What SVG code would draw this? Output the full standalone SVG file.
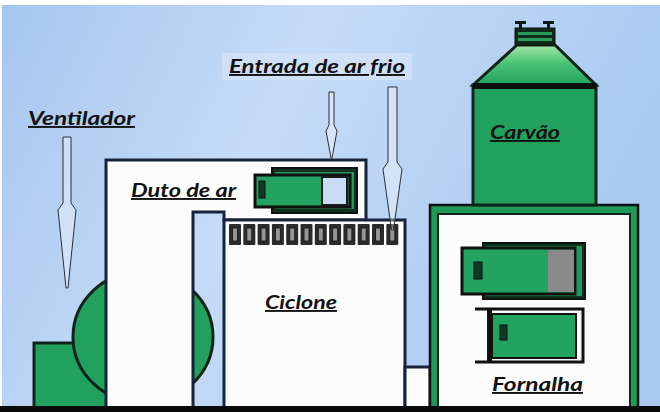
<svg xmlns="http://www.w3.org/2000/svg" width="660" height="412" viewBox="0 0 660 412">
  <defs>
    <linearGradient id="sky" x1="0" y1="0" x2="1" y2="0.3">
      <stop offset="0" stop-color="#a6c6ef"/>
      <stop offset="0.45" stop-color="#c6dbf7"/>
      <stop offset="1" stop-color="#a9c9f1"/>
    </linearGradient>
    <linearGradient id="cone" x1="0" y1="0" x2="0" y2="1">
      <stop offset="0" stop-color="#a6e6a8"/>
      <stop offset="0.45" stop-color="#4cc276"/>
      <stop offset="1" stop-color="#22a35f"/>
    </linearGradient>
    <style>
      .wall { fill: #fcfcfc; stroke: #17233a; stroke-width: 3; }
      .green { fill: #20a15e; stroke: #10241a; stroke-width: 3; }
      .dark { fill: #12301f; stroke: #0b1510; stroke-width: 2; }
      .slot { fill: #2b2b2b; }
      .slotIn { fill: #959595; stroke: #1e1e1e; stroke-width: 1; }
      .arrow { fill: #ffffff; fill-opacity: 0.35; stroke: #2a2f38; stroke-width: 1; }
      .label { font-family: Lato, "Liberation Sans", sans-serif; font-weight: bold; font-style: italic; font-size: 19px; fill: #111; text-decoration: underline; }
    </style>
  </defs>

  <!-- background -->
  <rect x="0" y="0" width="660" height="412" fill="#ffffff"/>
  <rect x="2" y="5" width="658" height="407" fill="url(#sky)"/>

  <!-- fan (ventilador) -->
  <g id="ventilador">
    <rect class="green" x="34" y="343" width="74" height="66"/>
    <ellipse class="green" cx="143" cy="337" rx="70" ry="66"/>
  </g>

  <!-- air duct with its inspection window -->
  <g id="duto">
    <path class="wall" d="M106,409 V160 H366 V220 H224 V212 H193 V409 Z"/>
    <rect class="dark" x="272" y="168" width="85" height="45"/>
    <rect x="275" y="172" width="79" height="37" fill="#1f9a58"/>
    <rect x="255" y="175" width="95" height="32" fill="#22a35f" stroke="#111" stroke-width="3"/>
    <rect x="322" y="177" width="25" height="28" fill="#c9dcf5" stroke="#1a1a1a" stroke-width="2"/>
    <rect x="259" y="181" width="6" height="17" fill="#0e3a22" stroke="#111" stroke-width="1"/>
  </g>

  <!-- cyclone -->
  <g id="ciclone">
    <rect class="wall" x="224" y="220" width="181" height="190"/>
    <g id="grade">
      <rect class="slot" x="229" y="224" width="12" height="21" rx="1"/><rect class="slotIn" x="232.5" y="228" width="5" height="13"/>
      <rect class="slot" x="243.3" y="224" width="12" height="21" rx="1"/><rect class="slotIn" x="246.8" y="228" width="5" height="13"/>
      <rect class="slot" x="257.6" y="224" width="12" height="21" rx="1"/><rect class="slotIn" x="261.1" y="228" width="5" height="13"/>
      <rect class="slot" x="271.9" y="224" width="12" height="21" rx="1"/><rect class="slotIn" x="275.4" y="228" width="5" height="13"/>
      <rect class="slot" x="286.2" y="224" width="12" height="21" rx="1"/><rect class="slotIn" x="289.7" y="228" width="5" height="13"/>
      <rect class="slot" x="300.5" y="224" width="12" height="21" rx="1"/><rect class="slotIn" x="304" y="228" width="5" height="13"/>
      <rect class="slot" x="314.8" y="224" width="12" height="21" rx="1"/><rect class="slotIn" x="318.3" y="228" width="5" height="13"/>
      <rect class="slot" x="329.1" y="224" width="12" height="21" rx="1"/><rect class="slotIn" x="332.6" y="228" width="5" height="13"/>
      <rect class="slot" x="343.4" y="224" width="12" height="21" rx="1"/><rect class="slotIn" x="346.9" y="228" width="5" height="13"/>
      <rect class="slot" x="357.7" y="224" width="12" height="21" rx="1"/><rect class="slotIn" x="361.2" y="228" width="5" height="13"/>
      <rect class="slot" x="372" y="224" width="12" height="21" rx="1"/><rect class="slotIn" x="375.5" y="228" width="5" height="13"/>
      <rect class="slot" x="386.3" y="224" width="12" height="21" rx="1"/><rect class="slotIn" x="389.8" y="228" width="5" height="13"/>
    </g>
  </g>

  <!-- link between cyclone and furnace -->
  <rect class="wall" x="405" y="367" width="25" height="43" stroke-width="2"/>

  <!-- furnace (fornalha) -->
  <g id="fornalha">
    <rect x="430" y="205" width="208" height="205" fill="#1f9a58" stroke="#111" stroke-width="2.5"/>
    <rect x="438" y="214" width="192" height="196" fill="#fbfbfb" stroke="#13241c" stroke-width="2"/>
    <!-- upper door -->
    <rect class="dark" x="483" y="243" width="102" height="56"/>
    <rect x="486" y="246" width="96" height="50" fill="#1f9a58"/>
    <rect x="462" y="248" width="113" height="46" fill="#22a35f" stroke="#111" stroke-width="3"/>
    <rect x="548" y="250" width="26" height="42" fill="#8a8a8a"/>
    <rect x="474" y="262" width="8" height="17" fill="#0e3a22" stroke="#111" stroke-width="1"/>
    <!-- lower door -->
    <path d="M475,309 H583 V362 H475" fill="none" stroke="#111" stroke-width="3"/>
    <rect x="487" y="310" width="5" height="51" fill="#111"/>
    <rect x="492" y="314" width="84" height="44" fill="#22a35f" stroke="#111" stroke-width="2"/>
    <rect x="500" y="325" width="7" height="15" fill="#0e3a22" stroke="#111" stroke-width="1"/>
  </g>

  <!-- coal silo (carvao) -->
  <g id="carvao">
    <polygon points="473,85 517,45 555,45 596,85" fill="url(#cone)" stroke="#10241a" stroke-width="3"/>
    <rect class="green" x="473" y="85" width="123" height="120" stroke-width="4"/>
    <rect x="473" y="83" width="123" height="6" fill="#0b120e"/>
    <rect x="515" y="28" width="40" height="17" fill="#0f2a1b" stroke="#0b150f" stroke-width="1"/>
    <rect x="518" y="32" width="34" height="3" fill="#2b9b5c"/>
    <rect x="518" y="38" width="34" height="3" fill="#2b9b5c"/>
    <rect x="519" y="22" width="3" height="7" fill="#0f1a14"/>
    <rect x="515" y="21" width="11" height="3" fill="#0f1a14"/>
    <rect x="547" y="22" width="3" height="7" fill="#0f1a14"/>
    <rect x="543" y="21" width="11" height="3" fill="#0f1a14"/>
  </g>

  <!-- ground line -->
  <rect x="0" y="406" width="660" height="6" fill="#0a0a0a"/>

  <!-- pointer arrows -->
  <g id="setas">
    <path class="arrow" d="M63,137 H71 V203 L76,210 L68,288 H66 L58,210 L63,203 Z"/>
    <path class="arrow" d="M329,92 H334 V125 L337,131 L332,158 H331 L326,131 L329,125 Z"/>
    <path class="arrow" d="M388,87 H397 V162 L402,169 L393.5,230 H391.5 L383,169 L388,162 Z"/>
  </g>

  <!-- labels -->
  <g id="rotulos">
    <rect x="222" y="53" width="190" height="27" fill="#cfe0f8"/>
    <text class="label" x="229" y="73" textLength="176" lengthAdjust="spacingAndGlyphs">Entrada de ar frio</text>
    <text class="label" x="28" y="125" textLength="107" lengthAdjust="spacingAndGlyphs">Ventilador</text>
    <text class="label" x="131" y="197" textLength="105" lengthAdjust="spacingAndGlyphs">Duto de ar</text>
    <text class="label" x="490" y="139" textLength="70" lengthAdjust="spacingAndGlyphs">Carvão</text>
    <text class="label" x="265" y="309" textLength="72" lengthAdjust="spacingAndGlyphs">Ciclone</text>
    <text class="label" x="492" y="391" textLength="91" lengthAdjust="spacingAndGlyphs">Fornalha</text>
  </g>
</svg>
